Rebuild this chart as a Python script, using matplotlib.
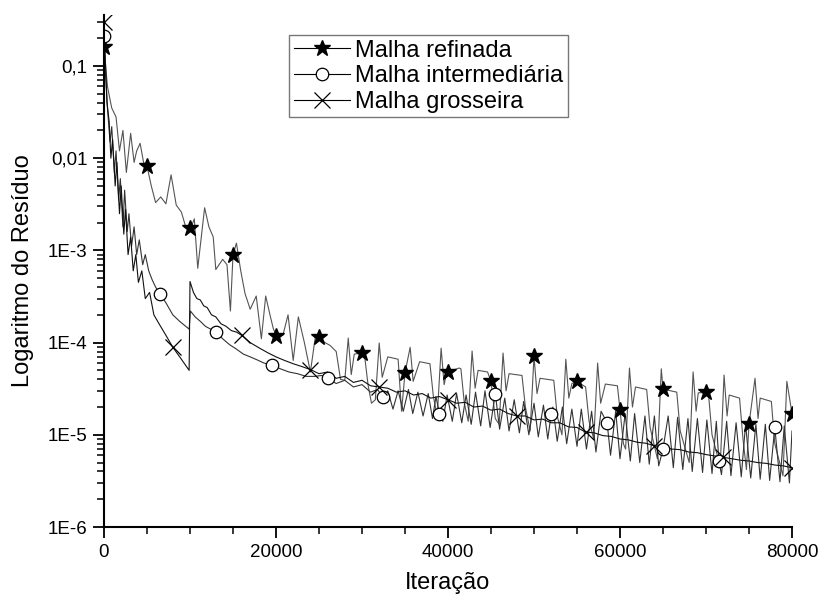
import matplotlib
matplotlib.use("Agg")
import matplotlib.pyplot as plt
from matplotlib.lines import Line2D
from matplotlib.ticker import LogLocator, NullFormatter, MultipleLocator

plt.rcParams['font.family'] = ['Liberation Sans', 'DejaVu Sans']

# Malha refinada (line)
ref_x = [0, 400, 900, 1400, 1800, 2200, 2600, 3100, 3500, 3800, 4200, 4600, 5000, 5500, 6000,
         6600, 7200, 7800, 8400, 9000, 9500, 10100, 10500, 10900, 11700, 12200, 12700, 13000,
         13800, 14300, 14700, 15000, 15400, 15900, 16400, 17000, 17700, 18300, 18800, 19300,
         19700, 20100, 20800, 21400, 22000, 22600, 23300, 24000, 24600, 25000, 25700, 26300,
         27000, 27500, 28000, 28400, 28750, 29100, 30000, 30300, 30700, 31100, 31550, 32000,
         32350, 33000, 34200, 34600, 35000, 35600, 35950, 36700, 37900, 38300, 38750, 39200,
         39550, 39900, 40000, 41300, 41500, 41900, 42350, 42800, 43150, 43500, 44600, 45000,
         45500, 45950, 46400, 46750, 47100, 48600, 49000, 49550, 50000, 50350, 50700, 52300,
         52700, 53250, 53700, 54050, 54400, 55000, 56000, 56400, 56950, 57400, 57750, 58300,
         59700, 60000, 60400, 60650, 61100, 61450, 61800, 63100, 63500, 64350, 64800, 65000,
         65200, 66600, 67000, 68050, 68500, 68850, 69100, 70000, 70300, 70700, 71650, 72100,
         72450, 72700, 73900, 74300, 74700, 75000, 75700, 76050, 76300, 77600, 78000, 78950,
         79400, 80000]
ref_y = [0.16, 0.06, 0.035, 0.028, 0.012, 0.02, 0.007, 0.0186, 0.009, 0.012, 0.0145, 0.009, 0.0082,
         0.005, 0.0033, 0.0038, 0.0032, 0.0066, 0.0031, 0.0026, 0.0018, 0.00175, 0.0022, 0.00064,
         0.0029, 0.0018, 0.0014, 0.00062, 0.0008, 0.0007, 0.00022, 0.00089, 0.0012, 0.0006,
         0.00034, 0.00023, 0.00032, 0.00011, 0.00032, 0.0002, 0.00014, 0.000118, 0.00012, 0.0002,
         6.4e-5, 0.00019, 0.0001, 4.8e-5, 0.00012, 0.000115, 0.0001, 9.3e-5, 8e-5, 4e-5, 3.9e-5,
         1.12e-4, 4.5e-5, 7.5e-5, 7.7e-5, 7.2e-5, 3.5e-5, 2.2e-5, 2.4e-5, 9.9e-5,
         4.2e-5, 7.0e-5, 6.6e-5, 1.8e-5, 4.7e-5, 8.9e-5, 3.8e-5, 6.2e-5, 5.9e-5, 2.6e-5, 1.6e-5,
         8.7e-5, 3.5e-5, 5.0e-5, 4.8e-5, 5.3e-5, 5.2e-5, 2.2e-5, 1.4e-5, 8.1e-5, 3.2e-5, 5.0e-5,
         4.8e-5, 3.8e-5, 1.5e-5, 1.3e-5, 7.7e-5, 3.0e-5, 4.6e-5, 4.4e-5, 2.0e-5, 1.1e-5, 7.1e-5,
         2.8e-5, 4.1e-5, 3.9e-5, 1.6e-5, 1.0e-5, 6.6e-5, 2.5e-5, 3.6e-5, 3.8e-5, 3.3e-5, 1.4e-5,
         9e-6, 6.0e-5, 2.2e-5, 3.55e-5, 3.4e-5, 1.86e-5, 8e-6, 7e-6, 5.3e-5, 2.0e-5, 3.3e-5,
         3.1e-5, 1.2e-5, 5.5e-6, 5.2e-5, 3.15e-5, 3.1e-5, 2.9e-5, 1.1e-5, 5e-6, 4.8e-5, 1.8e-5,
         2.85e-5, 2.9e-5, 2.7e-5, 1.0e-5, 4.5e-6, 4.45e-5, 1.6e-5, 2.7e-5, 2.5e-5, 9e-6, 4.2e-6,
         1.3e-5, 4.1e-5, 1.5e-5, 2.5e-5, 2.3e-5, 8e-6, 3.6e-6, 3.8e-5, 1.7e-5]

# Malha intermediária (line)
int_x = [0, 150, 400, 700, 900, 1200, 1400, 1700, 1900, 2200, 2400, 2700, 2900, 3200, 3500, 3800,
         4100, 4500, 4800, 5200, 5600, 6000, 6500, 7200, 8000, 8800, 9900, 10050, 10600, 11200,
         11800, 12400, 13000, 13800, 14600, 15400, 16200, 17000, 17800, 18600, 19500, 20500,
         21500, 22500, 23500, 24500, 25300, 26000, 27000, 28000, 29000, 30000, 31000, 31800,
         32400, 33000, 33600, 34200, 34800, 35400, 35900, 36500, 37100, 37700, 38200, 38600,
         39000, 39400, 39900, 40500, 41000, 41600, 42100, 42700, 43200, 43800, 44300, 44900,
         45500, 46000, 46600, 47100, 47700, 48300, 48800, 49400, 50000, 50500, 51100, 51600,
         52000, 52200, 52700, 53300, 53800, 54400, 55000, 55500, 56100, 56700, 57200, 57800,
         58500, 58900, 59500, 60000, 60600, 61200, 61700, 62300, 62900, 63400, 64000, 64500,
         65000, 65600, 66200, 66700, 67300, 67900, 68400, 69000, 69600, 70100, 70700, 71200,
         71500, 71800, 72400, 72900, 73500, 74100, 74600, 75200, 75800, 76300, 76900, 77400,
         78000, 78600, 79100, 79700, 80000]
int_y = [0.21, 0.09, 0.035, 0.015, 0.022, 0.007, 0.012, 0.0035, 0.006, 0.0018, 0.0045, 0.0016,
         0.0025, 0.0011, 0.0018, 0.0009, 0.0013, 0.0007, 0.0009, 0.0006, 0.00048, 0.0004, 0.00034,
         0.00027, 0.0002, 0.00017, 0.00014, 0.00022, 0.00019, 0.00017, 0.00015, 0.00014, 0.00013,
         0.00011, 9.5e-5, 8.5e-5, 7.5e-5, 7e-5, 6.5e-5, 6e-5, 5.7e-5, 5.2e-5, 4.8e-5, 4.6e-5,
         4.3e-5, 4.3e-5, 4.4e-5, 4.1e-5, 3.6e-5, 3.9e-5, 3.3e-5, 3.5e-5, 2.9e-5, 3.1e-5,
         2.6e-5, 3.0e-5, 1.9e-5, 3.0e-5, 1.8e-5, 3.1e-5, 1.7e-5, 2.9e-5, 1.6e-5, 2.8e-5, 1.5e-5,
         2.6e-5, 1.7e-5, 1.4e-5, 2.7e-5, 1.4e-5, 2.8e-5, 1.35e-5, 2.7e-5, 1.3e-5, 2.9e-5,
         1.25e-5, 3.0e-5, 1.2e-5, 2.8e-5, 1.15e-5, 2.5e-5, 1.1e-5, 2.4e-5, 1.05e-5, 2.3e-5,
         1.0e-5, 2.2e-5, 9.5e-6, 2.1e-5, 9e-6, 1.7e-5, 2.0e-5, 8.5e-6, 2.0e-5, 8e-6, 1.9e-5,
         7.5e-6, 1.9e-5, 7e-6, 1.8e-5, 6.5e-6, 1.8e-5, 1.35e-5, 6e-6, 1.8e-5, 5.5e-6, 1.7e-5,
         5.2e-6, 1.7e-5, 5e-6, 1.6e-5, 4.8e-6, 1.6e-5, 4.6e-6, 7e-6, 1.6e-5, 4.4e-6, 1.55e-5,
         4.2e-6, 1.5e-5, 4e-6, 1.5e-5, 3.9e-6, 1.45e-5, 3.8e-6, 1.4e-5, 5.2e-6, 3.7e-6, 1.4e-5,
         3.6e-6, 1.35e-5, 3.5e-6, 1.3e-5, 3.4e-6, 1.3e-5, 3.3e-6, 1.3e-5, 3.2e-6, 1.2e-5, 3.1e-6,
         1.25e-5, 3e-6, 1.1e-5]

# Malha grosseira (line)
coa_x = [0, 150, 350, 600, 800, 1000, 1300, 1500, 1800, 2000, 2300, 2500, 2800, 3100, 3400, 3700,
         4000, 4400, 4800, 5300, 5800, 6400, 7200, 8000, 8900, 9900, 10000, 10400, 10800, 11200,
         11600, 12000, 12500, 13000, 13600, 14200, 14800, 15400, 16000, 17000, 18000, 19000,
         20000, 21000, 22000, 23000, 24000, 25000, 26000, 27000, 28000, 29000, 30000, 31000,
         32000, 33000, 34000, 35000, 36000, 37000, 38000, 39000, 40000, 41000, 42000, 43000,
         44000, 45000, 46000, 47000, 48000, 49000, 50000, 51000, 52000, 53000, 54000, 55000,
         56000, 57000, 58000, 59000, 60000, 61000, 62000, 63000, 64000, 65000, 66000, 67000,
         68000, 69000, 70000, 71000, 72000, 73000, 74000, 75000, 76000, 77000, 78000, 79000, 80000]
coa_y = [0.3, 0.12, 0.04, 0.025, 0.01, 0.016, 0.005, 0.009, 0.0025, 0.005, 0.0015, 0.0028, 0.0009,
         0.0014, 0.0006, 0.0009, 0.00045, 0.0006, 0.0003, 0.00035, 0.0002, 0.00016, 0.00012,
         8.9e-5, 6.8e-5, 5e-5, 4.6e-4, 3.5e-4, 3.0e-4, 2.9e-4, 2.5e-4, 2.4e-4, 2.0e-4, 1.9e-4,
         1.6e-4, 1.5e-4, 1.35e-4, 1.3e-4, 1.2e-4, 1.0e-4, 8.8e-5, 7.8e-5, 7e-5, 6.4e-5, 5.9e-5,
         5.5e-5, 5.1e-5, 4.6e-5, 4.8e-5, 4.1e-5, 4.3e-5, 3.7e-5, 3.9e-5, 3.4e-5, 3.3e-5, 3.2e-5,
         2.9e-5, 3.0e-5, 2.7e-5, 2.8e-5, 2.5e-5, 2.6e-5, 2.4e-5, 2.2e-5, 2.25e-5, 2.0e-5,
         2.05e-5, 1.85e-5, 1.9e-5, 1.7e-5, 1.6e-5, 1.6e-5, 1.45e-5, 1.48e-5, 1.35e-5, 1.35e-5,
         1.22e-5, 1.2e-5, 1.07e-5, 1.05e-5, 9.8e-6, 9.6e-6, 9.0e-6, 8.8e-6, 8.3e-6, 8.1e-6,
         7.6e-6, 7.4e-6, 7.0e-6, 6.9e-6, 6.5e-6, 6.4e-6, 6.1e-6, 5.9e-6, 5.7e-6, 5.5e-6, 5.3e-6,
         5.2e-6, 5.0e-6, 4.9e-6, 4.7e-6, 4.6e-6, 4.4e-6]

# marker points
star_x = [0, 5000, 10000, 15000, 20000, 25000, 30000, 35000, 40000, 45000, 50000, 55000, 60000,
          65000, 70000, 75000, 80000]
star_y = [0.16, 8.2e-3, 1.75e-3, 8.9e-4, 1.18e-4, 1.15e-4, 7.7e-5, 4.7e-5, 4.8e-5, 3.8e-5, 7.1e-5,
          3.8e-5, 1.86e-5, 3.15e-5, 2.9e-5, 1.3e-5, 1.7e-5]
circ_x = [0, 6500, 13000, 19500, 26000, 32500, 39000, 45500, 52000, 58500, 65000, 71500, 78000]
circ_y = [0.21, 3.4e-4, 1.3e-4, 5.7e-5, 4.1e-5, 2.6e-5, 1.7e-5, 2.8e-5, 1.7e-5, 1.35e-5, 7e-6,
          5.2e-6, 1.2e-5]
cross_x = [0, 8000, 16000, 24000, 32000, 40000, 48000, 56000, 64000, 72000, 80000]
cross_y = [0.3, 8.9e-5, 1.2e-4, 5.1e-5, 3.3e-5, 2.4e-5, 1.6e-5, 1.07e-5, 7.6e-6, 5.7e-6, 4.4e-6]

labels = ["Malha refinada", "Malha intermediária", "Malha grosseira"]
ytick_vals = [1e-6, 1e-5, 1e-4, 1e-3, 1e-2, 1e-1]
ytick_text = ["1E-6", "1E-5", "1E-4", "1E-3", "0,01", "0,1"]
xtick_vals = [0, 20000, 40000, 60000, 80000]

fig = plt.figure(figsize=(8.2, 6), dpi=100)
ax = fig.add_axes([104 / 820, 73 / 600, 688 / 820, 512 / 600])

ax.plot(ref_x, ref_y, color="#555555", lw=0.8)
ax.plot(int_x, int_y, color="#333333", lw=0.8)
ax.plot(coa_x, coa_y, color="#111111", lw=0.8)

ax.plot(star_x, star_y, ls="none", marker="*", ms=12, color="black")
ax.plot(circ_x, circ_y, ls="none", marker="o", ms=9, mfc="white", mec="black", mew=0.9)
ax.plot(cross_x, cross_y, ls="none", marker="x", ms=11, color="black", mew=0.9)

ax.set_yscale("log")
ax.set_xlim(0, 80000)
ax.set_ylim(1e-6, 10 ** -0.447)

for s in ["top", "right"]:
    ax.spines[s].set_visible(False)
for s in ["left", "bottom"]:
    ax.spines[s].set_linewidth(1.5)

ax.set_yticks(ytick_vals)
ax.set_yticklabels(ytick_text)
ax.yaxis.set_minor_locator(LogLocator(base=10, subs=range(2, 10), numticks=20))
ax.yaxis.set_minor_formatter(NullFormatter())
ax.set_xticks(xtick_vals)
ax.set_xticklabels([str(v) for v in xtick_vals])
ax.xaxis.set_minor_locator(MultipleLocator(5000))
ax.tick_params(which="major", direction="out", length=8, width=1.3, labelsize=13.5, pad=4)
ax.tick_params(which="minor", direction="out", length=5, width=1.1)

ax.set_xlabel("Iteração", fontsize=17, labelpad=8)
ax.set_ylabel("Logaritmo do Resíduo", fontsize=17, labelpad=10)

handles = [
    Line2D([], [], color="black", lw=0.8, marker="*", ms=12),
    Line2D([], [], color="black", lw=0.8, marker="o", ms=9, mfc="white", mew=0.9),
    Line2D([], [], color="black", lw=0.8, marker="x", ms=11, mew=0.9),
]
leg = ax.legend(handles, labels, loc="upper left", bbox_to_anchor=(0.269, 0.961),
                borderaxespad=0, fontsize=17, handlelength=2.4, handletextpad=0.2,
                labelspacing=0.15, borderpad=0.2, fancybox=False, framealpha=1,
                edgecolor="#777777")
leg.get_frame().set_linewidth(1.0)

fig.savefig("out.png", dpi=100)
